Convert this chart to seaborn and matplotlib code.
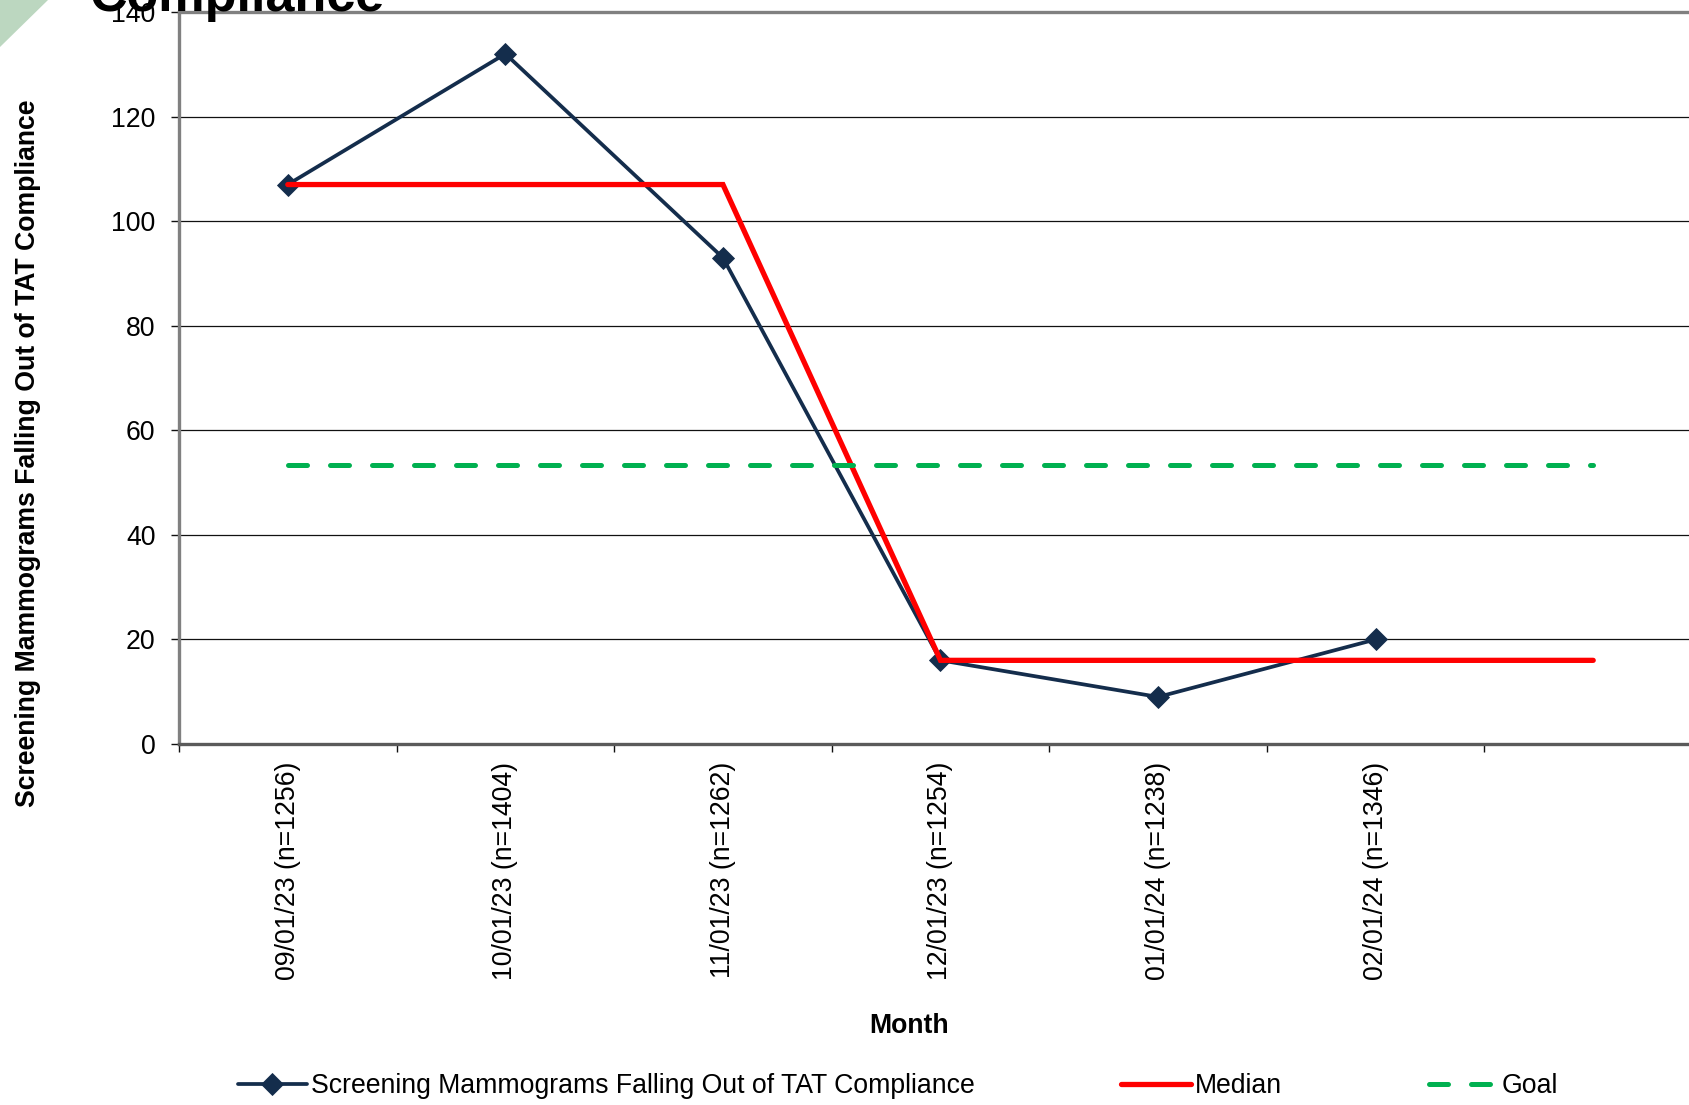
import numpy as np
import pandas as pd
import matplotlib
matplotlib.use("Agg")
import matplotlib.pyplot as plt
from matplotlib.patches import Polygon
import seaborn as sns

# Monthly categories (the last slot carries no data point, only the reference lines)
months = ["09/01/23 (n=1256)", "10/01/23 (n=1404)", "11/01/23 (n=1262)",
          "12/01/23 (n=1254)", "01/01/24 (n=1238)", "02/01/24 (n=1346)", ""]
fallouts = [107, 132, 93, 16, 9, 20]
median = [107, 107, 107, 16, 16, 16, 16]
goal = [53.3, 53.3, 53.3, 53.3, 53.3, 53.3, 53.3]
y_ticks = [0, 20, 40, 60, 80, 100, 120, 140]

series_label = "Screening Mammograms Falling Out of TAT Compliance"

NAVY = "#142D4C"
RED = "#FF0000"
GREEN = "#00B050"

sns.set_theme(style="white")
plt.rcParams["font.family"] = ["Liberation Sans", "DejaVu Sans"]
plt.rcParams["text.color"] = "black"
plt.rcParams["axes.labelcolor"] = "black"
plt.rcParams["xtick.color"] = "black"
plt.rcParams["ytick.color"] = "black"

FS = 19.2

fig = plt.figure(figsize=(16.9, 11.05), dpi=100)
W, H = 1690, 1105
ax = fig.add_axes([179 / W, (H - 744) / H, (1702 - 179) / W, (744 - 12) / H])

pos_obs = list(range(len(fallouts)))
pos_all = list(range(len(months)))
df_obs = pd.DataFrame({"pos": pos_obs, "value": fallouts})
df_med = pd.DataFrame({"pos": pos_all, "value": median})
df_goal = pd.DataFrame({"pos": pos_all, "value": goal})

# horizontal gridlines
for yv in y_ticks[1:-1]:
    ax.axhline(yv, color="#111111", lw=0.9, zorder=1)

sns.lineplot(data=df_obs, x="pos", y="value", ax=ax, color=NAVY, lw=2.7,
             marker="D", markersize=11.5, markeredgecolor=NAVY, markeredgewidth=0.6,
             errorbar=None, label=series_label, zorder=3)
sns.lineplot(data=df_med, x="pos", y="value", ax=ax, color=RED, lw=3.8,
             errorbar=None, label="Median", zorder=4,
             solid_capstyle="round", solid_joinstyle="miter")
sns.lineplot(data=df_goal, x="pos", y="value", ax=ax, color=GREEN, lw=3.6,
             errorbar=None, label="Goal", zorder=5,
             dashes=False, linestyle=(0, (3.8, 4.6)), dash_capstyle="round")

ax.set_xlim(-0.5, 6.5)
ax.set_ylim(0, 140)
ax.set_yticks(y_ticks)
ax.set_yticklabels([str(v) for v in y_ticks], fontsize=FS)

# category boundaries carry the tick marks, centres carry the labels
ax.set_xticks(np.arange(-0.5, 7.0, 1.0))
ax.set_xticks(pos_all, minor=True)
ax.set_xticklabels(months, minor=True, rotation=90, fontsize=FS)
ax.tick_params(axis="x", which="major", direction="out", length=6, width=1,
               color="#111111", labelbottom=False, bottom=True)
ax.tick_params(axis="x", which="minor", length=0, pad=13, bottom=True)
ax.tick_params(axis="y", direction="out", length=6, width=1, color="#111111",
               pad=11, left=True)

for side in ["left", "top"]:
    ax.spines[side].set_color("#808080")
    ax.spines[side].set_linewidth(2.4)
ax.spines["bottom"].set_color("#5a5a5a")
ax.spines["bottom"].set_linewidth(2.4)
ax.spines["right"].set_visible(False)

ax.set_ylabel(series_label, fontsize=FS, fontweight="bold")
ax.yaxis.label.set_va("center")
ax.yaxis.set_label_coords((28 - 179) / 1523, (744 - 453) / 732)
ax.set_xlabel("Month", fontsize=FS, fontweight="bold")
ax.xaxis.label.set_va("center")
ax.xaxis.set_label_coords((909 - 179) / 1523, (744 - 1026) / 732)

handles, labels = ax.get_legend_handles_labels()
ax.get_legend().remove()
fig.legend(handles, labels, loc="center", bbox_to_anchor=(898 / W, 19 / H),
           ncol=3, frameon=False, fontsize=FS, handlelength=2.6,
           handletextpad=0.15, columnspacing=5.5)

# title, running off the top edge
fig.text(90 / W, 1 - 11 / H, "Compliance", fontsize=37.5, fontweight="bold",
         ha="left", va="baseline")

# decorative corner triangle
fig.patches.append(Polygon([(0, 1), (48 / W, 1), (0, 1 - 47 / H)],
                           closed=True, transform=fig.transFigure,
                           facecolor="#BCD7C0", edgecolor="none"))

fig.savefig("out.png", dpi=100)
